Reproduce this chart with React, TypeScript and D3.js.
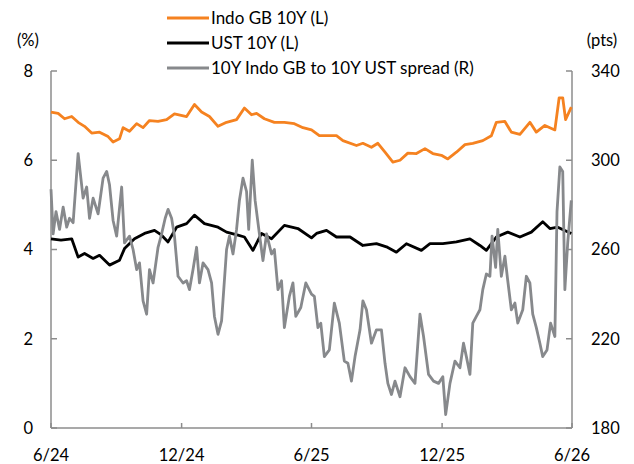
import React from 'react';
import * as d3 from 'd3';

// Indo GB 10Y yield (%), left axis
const indoDates = [
  '2024-06-01', '2024-06-11', '2024-06-20', '2024-06-30', '2024-07-09', '2024-07-18', '2024-07-28',
  '2024-08-08', '2024-08-20', '2024-08-27', '2024-09-05', '2024-09-10', '2024-09-19', '2024-09-29',
  '2024-10-08', '2024-10-17', '2024-10-29', '2024-11-10', '2024-11-21', '2024-12-08', '2024-12-19',
  '2024-12-29', '2025-01-09', '2025-01-21', '2025-02-02', '2025-02-16', '2025-02-27', '2025-03-09',
  '2025-03-16', '2025-03-27', '2025-04-10', '2025-04-24', '2025-05-08', '2025-05-20', '2025-06-01',
  '2025-06-12', '2025-07-06', '2025-07-15', '2025-08-03', '2025-08-12', '2025-08-24', '2025-09-02',
  '2025-09-12', '2025-09-23', '2025-10-03', '2025-10-14', '2025-10-26', '2025-11-07', '2025-11-18',
  '2025-11-30', '2025-12-09', '2025-12-21', '2026-01-02', '2026-01-13', '2026-01-27', '2026-02-08',
  '2026-02-15', '2026-02-27', '2026-03-08', '2026-03-20', '2026-04-03', '2026-04-12', '2026-04-24',
  '2026-05-08', '2026-05-14', '2026-05-19', '2026-05-23', '2026-05-31',
];
const indoValues = [
  7.08, 7.05, 6.93, 6.98, 6.85, 6.76, 6.61,
  6.63, 6.53, 6.41, 6.48, 6.73, 6.65, 6.82,
  6.73, 6.89, 6.87, 6.91, 7.04, 6.98, 7.25,
  7.08, 6.98, 6.76, 6.85, 6.91, 7.17, 7.02,
  7.05, 6.93, 6.85, 6.85, 6.82, 6.73, 6.68,
  6.55, 6.55, 6.44, 6.33, 6.38, 6.29, 6.38,
  6.18, 5.96, 6.0, 6.16, 6.15, 6.26, 6.15,
  6.11, 6.03, 6.18, 6.35, 6.38, 6.44, 6.55,
  6.85, 6.87, 6.63, 6.58, 6.85, 6.63, 6.78,
  6.68, 7.40, 7.40, 6.91, 7.19,
];

// UST 10Y yield (%), left axis
const ustDates = [
  '2024-06-01', '2024-06-15', '2024-06-30', '2024-07-09', '2024-07-18', '2024-07-30', '2024-08-08',
  '2024-08-22', '2024-09-05', '2024-09-12', '2024-09-26', '2024-10-10', '2024-10-24', '2024-11-03',
  '2024-11-12', '2024-11-24', '2024-12-08', '2024-12-19', '2025-01-02', '2025-01-21', '2025-02-02',
  '2025-02-18', '2025-02-27', '2025-03-11', '2025-03-23', '2025-04-06', '2025-04-24', '2025-05-13',
  '2025-06-01', '2025-06-08', '2025-06-22', '2025-07-06', '2025-07-25', '2025-08-12', '2025-08-31',
  '2025-09-14', '2025-09-28', '2025-10-12', '2025-11-02', '2025-11-14', '2025-12-02', '2025-12-21',
  '2026-01-09', '2026-01-23', '2026-02-01', '2026-02-15', '2026-03-03', '2026-03-20', '2026-04-05',
  '2026-04-21', '2026-05-01', '2026-05-12', '2026-05-31',
];
const ustValues = [
  4.24, 4.21, 4.24, 3.83, 3.91, 3.80, 3.87,
  3.65, 3.76, 4.02, 4.24, 4.36, 4.43, 4.32,
  4.17, 4.50, 4.58, 4.77, 4.58, 4.50, 4.39,
  4.32, 4.28, 3.98, 4.36, 4.24, 4.54, 4.47,
  4.26, 4.36, 4.43, 4.28, 4.28, 4.09, 4.13,
  4.06, 3.94, 4.13, 3.98, 4.13, 4.13, 4.17,
  4.24, 4.09, 3.98, 4.28, 4.39, 4.28, 4.39,
  4.62, 4.47, 4.50, 4.36,
];

// 10Y Indo GB to 10Y UST spread (pts), right axis
const spreadDates = [
  '2024-06-01', '2024-06-04', '2024-06-08', '2024-06-13', '2024-06-18', '2024-06-23', '2024-06-27',
  '2024-07-02', '2024-07-09', '2024-07-16', '2024-07-21', '2024-07-25', '2024-07-30', '2024-08-06',
  '2024-08-13', '2024-08-18', '2024-08-22', '2024-08-27', '2024-09-01', '2024-09-08', '2024-09-12',
  '2024-09-19', '2024-09-24', '2024-09-29', '2024-10-03', '2024-10-08', '2024-10-13', '2024-10-17',
  '2024-10-22', '2024-10-29', '2024-11-03', '2024-11-08', '2024-11-12', '2024-11-17', '2024-11-21',
  '2024-11-26', '2024-12-03', '2024-12-08', '2024-12-12', '2024-12-17', '2024-12-22', '2024-12-26',
  '2024-12-31', '2025-01-07', '2025-01-12', '2025-01-16', '2025-01-21', '2025-01-26', '2025-02-02',
  '2025-02-06', '2025-02-11', '2025-02-16', '2025-02-20', '2025-02-25', '2025-03-02', '2025-03-05',
  '2025-03-10', '2025-03-14', '2025-03-20', '2025-03-25', '2025-03-30', '2025-04-06', '2025-04-10',
  '2025-04-15', '2025-04-20', '2025-04-24', '2025-05-01', '2025-05-06', '2025-05-10', '2025-05-17',
  '2025-05-24', '2025-06-01', '2025-06-05', '2025-06-10', '2025-06-14', '2025-06-19', '2025-06-26',
  '2025-07-03', '2025-07-10', '2025-07-17', '2025-07-22', '2025-07-27', '2025-08-01', '2025-08-08',
  '2025-08-12', '2025-08-17', '2025-08-24', '2025-08-31', '2025-09-07', '2025-09-12', '2025-09-16',
  '2025-09-21', '2025-09-26', '2025-10-03', '2025-10-10', '2025-10-17', '2025-10-24', '2025-10-31',
  '2025-11-05', '2025-11-12', '2025-11-19', '2025-11-26', '2025-12-02', '2025-12-06', '2025-12-12',
  '2025-12-19', '2025-12-26', '2025-12-31', '2026-01-04', '2026-01-09', '2026-01-13', '2026-01-18',
  '2026-01-23', '2026-01-27', '2026-02-01', '2026-02-06', '2026-02-09', '2026-02-14', '2026-02-17',
  '2026-02-22', '2026-02-27', '2026-03-03', '2026-03-08', '2026-03-13', '2026-03-17', '2026-03-24',
  '2026-03-29', '2026-04-03', '2026-04-07', '2026-04-12', '2026-04-17', '2026-04-21', '2026-04-27',
  '2026-05-02', '2026-05-08', '2026-05-11', '2026-05-15', '2026-05-19', '2026-05-22', '2026-05-26',
  '2026-05-31',
];
const spreadValues = [
  287, 267, 277, 269, 279, 270, 274,
  272, 303, 283, 288, 274, 283, 276,
  292, 295, 289, 273, 266, 288, 263,
  266, 260, 251, 254, 237, 231, 251,
  245, 261, 267, 274, 278, 274, 266,
  248, 245, 246, 242, 251, 261, 245,
  254, 251, 245, 230, 222, 228, 260,
  266, 258, 269, 282, 292, 286, 269,
  300, 282, 267, 255, 267, 258, 260,
  242, 246, 225, 239, 245, 230, 234,
  245, 240, 239, 225, 227, 212, 215,
  236, 227, 210, 209, 201, 212, 224,
  237, 233, 218, 224, 224, 209, 200,
  195, 201, 194, 207, 203, 200, 231,
  221, 204, 201, 200, 203, 186, 200,
  210, 207, 218, 212, 204, 227, 230,
  233, 242, 249, 248, 266, 252, 269,
  248, 257, 246, 233, 236, 227, 233,
  248, 245, 231, 225, 218, 212, 215,
  227, 221, 277, 297, 295, 242, 263,
  282,
];

const xTickDates = ['2024-06-01', '2024-12-01', '2025-06-01', '2025-12-01', '2026-06-01'];
const xTickLabels = ['6/24', '12/24', '6/25', '12/25', '6/26'];
const leftTicks = [0, 2, 4, 6, 8];
const rightTicks = [180, 220, 260, 300, 340];

const legendItems = [
  { label: 'Indo GB 10Y (L)', color: '#F58220' },
  { label: 'UST 10Y (L)', color: '#000000' },
  { label: '10Y Indo GB to 10Y UST spread (R)', color: '#87898C' },
];

const parse = d3.timeParse('%Y-%m-%d');
const FONT = 'Lato, "Open Sans", sans-serif';
const AXIS = '#8C8C8C';

export default function App() {
  const left = 51, right = 572, top = 71, bottom = 428;

  const x = d3.scaleTime()
    .domain([parse('2024-06-01') as Date, parse('2026-06-01') as Date])
    .range([left, right]);
  const yL = d3.scaleLinear().domain([0, 8]).range([bottom, top]);
  const yR = d3.scaleLinear().domain([180, 340]).range([bottom, top]);

  const lineL = d3.line<[Date, number]>().x(d => x(d[0])).y(d => yL(d[1]));
  const lineR = d3.line<[Date, number]>().x(d => x(d[0])).y(d => yR(d[1]));

  const zip = (ds: string[], vs: number[]) =>
    ds.map((d, i) => [parse(d) as Date, vs[i]] as [Date, number]);

  const indo = zip(indoDates, indoValues);
  const ust = zip(ustDates, ustValues);
  const spread = zip(spreadDates, spreadValues);

  return (
    <svg width={634} height={464} style={{ position: 'absolute', left: 0, top: 0 }}
      fontFamily={FONT} fontSize={16.5} fill="#000">
      {/* axes */}
      <g stroke={AXIS} strokeWidth={1.5} fill="none">
        <line x1={left} y1={top} x2={left} y2={bottom} />
        <line x1={right} y1={top} x2={right} y2={bottom} />
        <line x1={left} y1={bottom} x2={right} y2={bottom} />
        {leftTicks.map(t => (
          <line key={'l' + t} x1={left} x2={left + 6} y1={yL(t)} y2={yL(t)} />
        ))}
        {rightTicks.map(t => (
          <line key={'r' + t} x1={right - 6} x2={right} y1={yR(t)} y2={yR(t)} />
        ))}
        {xTickDates.map(d => (
          <line key={d} x1={x(parse(d) as Date)} x2={x(parse(d) as Date)} y1={bottom} y2={bottom - 5} />
        ))}
      </g>

      {/* series */}
      <path d={lineL(indo) || ''} fill="none" stroke="#F58220" strokeWidth={2.8} strokeLinejoin="round" />
      <path d={lineL(ust) || ''} fill="none" stroke="#000" strokeWidth={2.8} strokeLinejoin="round" />
      <path d={lineR(spread) || ''} fill="none" stroke="#87898C" strokeWidth={2.8} strokeLinejoin="round" />

      {/* tick labels */}
      {leftTicks.map(t => (
        <text key={'lt' + t} x={33} y={yL(t)} dy="0.35em" textAnchor="end">{t}</text>
      ))}
      {rightTicks.map(t => (
        <text key={'rt' + t} x={591} y={yR(t)} dy="0.35em">{t}</text>
      ))}
      {xTickDates.map((d, i) => (
        <text key={'xt' + d} x={x(parse(d) as Date)} y={455} dy="0.35em" textAnchor="middle">{xTickLabels[i]}</text>
      ))}

      {/* unit labels */}
      <text x={28} y={40} dy="0.35em" textAnchor="middle">(%)</text>
      <text x={602} y={40} dy="0.35em" textAnchor="middle">(pts)</text>

      {/* legend */}
      {legendItems.map((item, i) => (
        <g key={item.label} transform={`translate(0, ${18 + i * 25})`}>
          <line x1={167} x2={209} y1={0} y2={0} stroke={item.color} strokeWidth={3} />
          <text x={211} y={0} dy="0.35em" fontSize={17}>{item.label}</text>
        </g>
      ))}
    </svg>
  );
}
